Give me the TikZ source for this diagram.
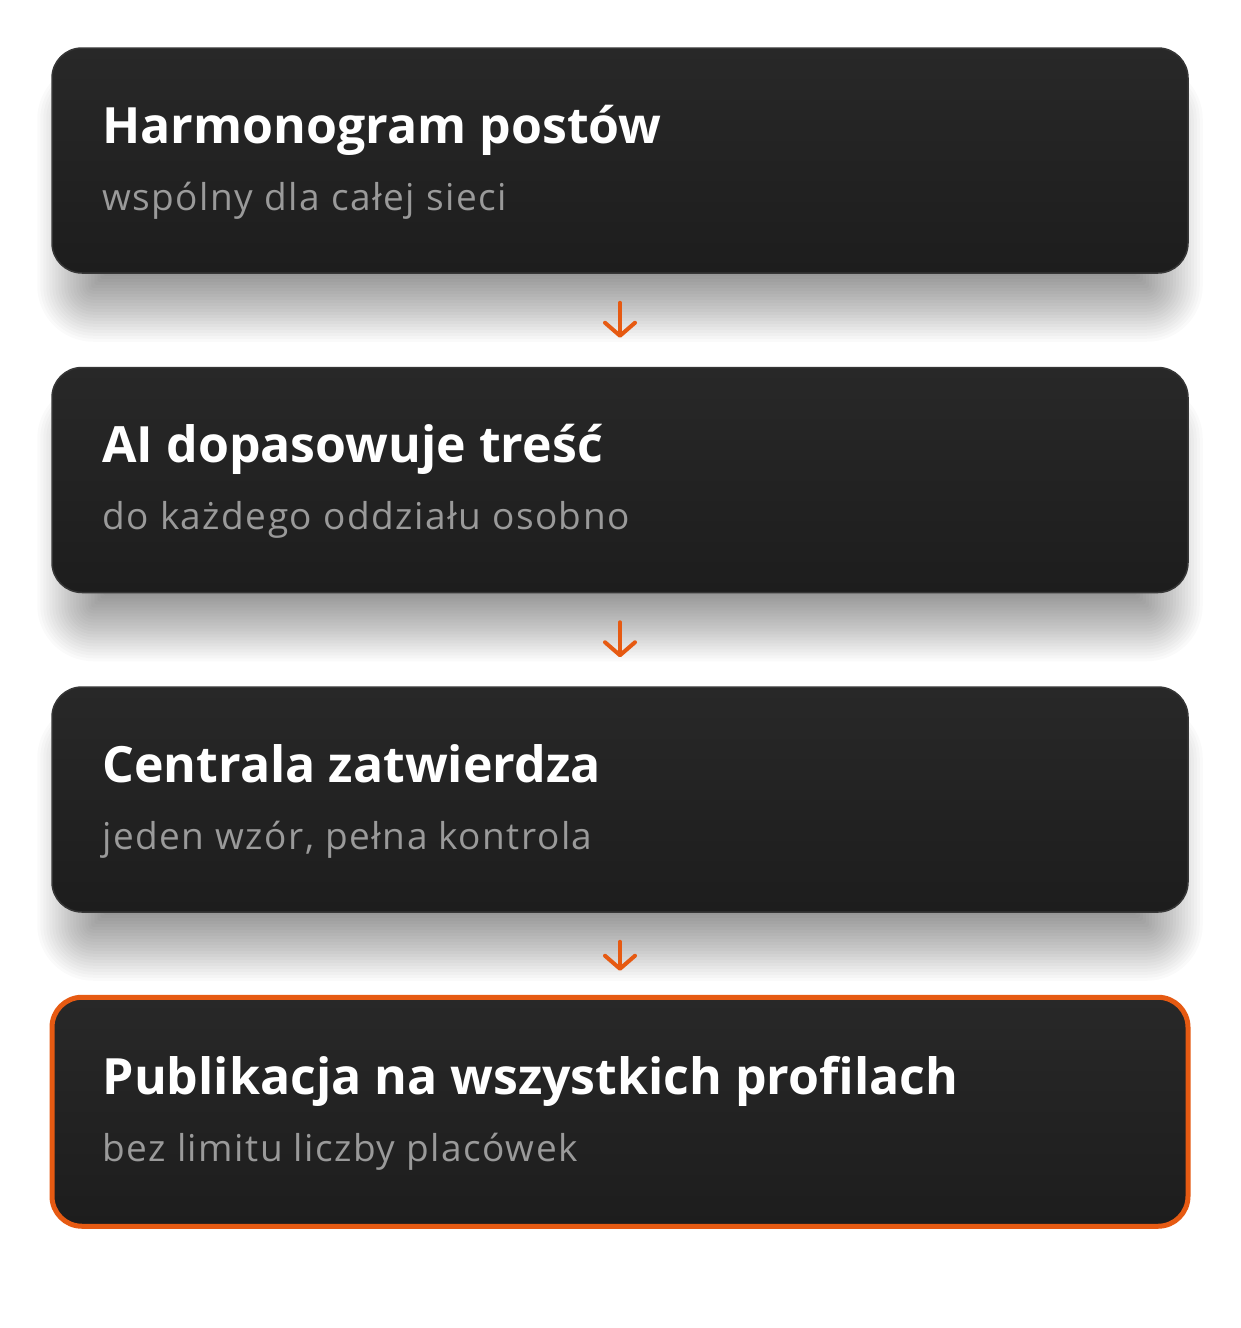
\documentclass[tikz,border=0pt]{standalone}
\usepackage{fontspec}
\setmainfont{Open Sans}
\newfontfamily\subfont[LetterSpace=4]{Open Sans}
\usetikzlibrary{positioning,backgrounds,arrows.meta}

\definecolor{cardtop}{HTML}{282828}
\definecolor{cardbot}{HTML}{1D1D1D}
\definecolor{cardline}{HTML}{363636}
\definecolor{subgrey}{HTML}{9A9A9A}
\definecolor{accent}{HTML}{E65A12}

\tikzset{
	cardbase/.style={rounded corners=30pt, minimum width=1136pt, minimum height=225pt, top color=cardtop, bottom color=cardbot},
	card/.style={cardbase, draw=cardline, line width=1.5pt},
	lastcard/.style={cardbase, draw=accent, line width=5pt, minimum height=229pt},
	ttl/.style={anchor=base west, inner sep=0pt, text=white, font=\fontsize{50}{60}\selectfont\bfseries},
	sub/.style={anchor=base west, inner sep=0pt, text=subgrey, font=\subfont\fontsize{37}{44}\selectfont},
	flow/.style={draw=accent, line width=4pt, line cap=round, -{Straight Barb[length=13pt, width=30pt, line cap=round, line join=round]}}
}

% soft shadow: stacked translucent rounded boxes, pushed down
\newcommand{\cardshadow}[1]{%
	\foreach \k in {0,...,31}{
		\pgfmathsetmacro{\grow}{26-3*\k}
		\pgfmathsetmacro{\growx}{\grow-12}
		\pgfmathsetmacro{\rad}{max(2,30+\grow)}
		\fill[black, opacity=0.021, rounded corners=\rad pt]
			([xshift=-\growx pt, yshift=\grow pt-42pt]#1.north west) rectangle
			([xshift=\growx pt, yshift=-\grow pt-42pt]#1.south east);
	}%
}

\begin{document}
\begin{tikzpicture}
	\useasboundingbox (0,0) rectangle (1240pt,-1328pt);

	% cards
	\node[card] at (620pt,-160.5pt) (h) {};
	\node[card, below=93pt of h] (a) {};
	\node[card, below=93pt of a] (c) {};
	\node[lastcard, below=82pt of c] (p) {};

	\begin{scope}[on background layer]
		\fill[white] (0,0) rectangle (1240pt,-1328pt);
		\cardshadow{h}
		\cardshadow{a}
		\cardshadow{c}
	\end{scope}

	% texts
	\node[ttl] at ([xshift=51pt,yshift=-96pt]h.north west) (ht) {Harmonogram postów};
	\node[sub] at ([xshift=51pt,yshift=-163pt]h.north west) (hs) {wspólny dla całej sieci};

	\node[ttl] at ([xshift=51pt,yshift=-96pt]a.north west) (at) {AI dopasowuje treść};
	\node[sub] at ([xshift=51pt,yshift=-163pt]a.north west) (as) {do każdego oddziału osobno};

	\node[ttl] at ([xshift=51pt,yshift=-96pt]c.north west) (ct) {Centrala zatwierdza};
	\node[sub] at ([xshift=51pt,yshift=-163pt]c.north west) (cs) {jeden wzór, pełna kontrola};

	\node[ttl] at ([xshift=53pt,yshift=-100pt]p.north west) (pt) {Publikacja na wszystkich profilach};
	\node[sub] at ([xshift=53pt,yshift=-167pt]p.north west) (ps) {bez limitu liczby placówek};

	% arrows
	\draw[flow] ([yshift=-29pt]h.south) -- ([yshift=29pt]a.north);
	\draw[flow] ([yshift=-29pt]a.south) -- ([yshift=29pt]c.north);
	\draw[flow] ([yshift=-29pt]c.south) -- ([yshift=24pt]p.north);
\end{tikzpicture}
\end{document}
